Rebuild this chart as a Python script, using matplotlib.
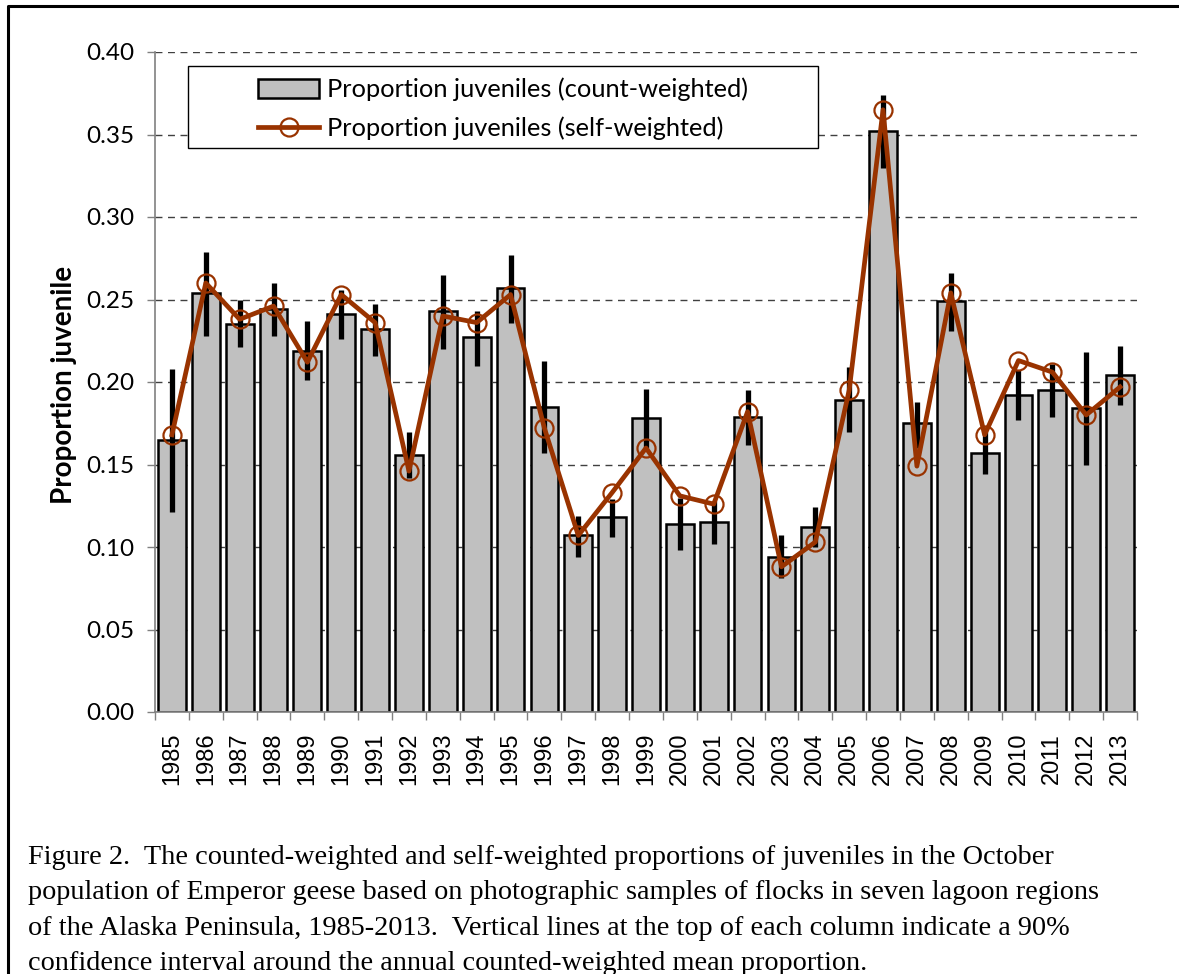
import numpy as np
import matplotlib
matplotlib.use("Agg")
import matplotlib.pyplot as plt
from matplotlib.patches import Rectangle
from matplotlib.lines import Line2D

years = list(range(1985, 2014))

# count-weighted proportion (bars)
count_w = [0.165, 0.254, 0.235, 0.244, 0.219, 0.241, 0.232, 0.156, 0.243, 0.227,
           0.257, 0.185, 0.107, 0.118, 0.178, 0.114, 0.115, 0.179, 0.094, 0.112,
           0.189, 0.352, 0.175, 0.249, 0.157, 0.192, 0.195, 0.184, 0.204]

# self-weighted proportion (line)
self_w = [0.168, 0.260, 0.238, 0.246, 0.212, 0.253, 0.236, 0.146, 0.240, 0.236,
          0.253, 0.172, 0.107, 0.133, 0.160, 0.131, 0.126, 0.182, 0.088, 0.103,
          0.195, 0.365, 0.149, 0.254, 0.168, 0.213, 0.206, 0.180, 0.197]

# 90% confidence interval of the count-weighted mean
ci_low = [0.121, 0.228, 0.221, 0.228, 0.201, 0.226, 0.216, 0.142, 0.220, 0.210,
          0.236, 0.157, 0.094, 0.106, 0.160, 0.098, 0.102, 0.162, 0.081, 0.100,
          0.170, 0.330, 0.160, 0.231, 0.144, 0.177, 0.179, 0.150, 0.186]
ci_high = [0.208, 0.279, 0.250, 0.260, 0.237, 0.256, 0.247, 0.170, 0.265, 0.243,
           0.277, 0.213, 0.119, 0.129, 0.196, 0.130, 0.128, 0.195, 0.107, 0.124,
           0.209, 0.374, 0.188, 0.266, 0.170, 0.207, 0.211, 0.218, 0.222]

yticks = np.arange(0, 0.401, 0.05)

caption = ("Figure 2.  The counted-weighted and self-weighted proportions of juveniles in the October\n"
           "population of Emperor geese based on photographic samples of flocks in seven lagoon regions\n"
           "of the Alaska Peninsula, 1985-2013.  Vertical lines at the top of each column indicate a 90%\n"
           "confidence interval around the annual counted-weighted mean proportion.")

sans = ["Lato", "DejaVu Sans"]
line_col = "#993300"

fig = plt.figure(figsize=(11.79, 9.74), dpi=100)
ax = fig.add_axes([155/1179, 1-712/974, 982/1179, 660/974])

x = np.arange(len(years))
bars = ax.bar(x, count_w, width=0.82, color="#c0c0c0", edgecolor="black", linewidth=1.8,
              zorder=2)
ax.vlines(x, ci_low, ci_high, color="black", linewidth=3.8, zorder=3)
line, = ax.plot(x, self_w, color=line_col, lw=3.4, marker="o", markersize=13,
                markerfacecolor="none", markeredgewidth=1.6, markeredgecolor=line_col,
                zorder=4)

ax.set_xlim(-0.5, len(years) - 0.5)
ax.set_ylim(0, 0.4)
ax.set_yticks(yticks)
ax.set_yticklabels([f"{v:.2f}" for v in yticks], fontsize=17.5, family=sans)
ax.yaxis.grid(True, linestyle=(0, (5, 4)), color="#404040", lw=1)
ax.set_axisbelow(True)

ax.set_xticks(x)
ax.set_xticklabels([str(y) for y in years], rotation=90, fontsize=17,
                   family="Liberation Sans")
ax.set_xticks(np.arange(-0.5, len(years)), minor=True)
ax.tick_params(axis="x", which="major", length=0, pad=15)
ax.tick_params(axis="x", which="minor", length=6, color="#808080", width=1)
ax.tick_params(axis="y", length=6, color="#808080", width=1, pad=9)

for s in ["top", "right"]:
    ax.spines[s].set_visible(False)
for s in ["left", "bottom"]:
    ax.spines[s].set_color("#808080")
    ax.spines[s].set_linewidth(1.2)

ax.set_ylabel("Proportion juvenile", fontsize=20, fontweight="bold", family=sans)
ax.yaxis.set_label_coords(-0.079, 0.4955)

# legend box drawn separately so the entries sit centred in it
box = Rectangle((33/982, 564/660), 630/982, 82/660, transform=ax.transAxes,
                facecolor="white", edgecolor="black", lw=1, zorder=5)
ax.add_patch(box)
leg = ax.legend([bars, line],
                ["Proportion juveniles (count-weighted)", "Proportion juveniles (self-weighted)"],
                loc="center", bbox_to_anchor=(348/982, 603/660), frameon=False,
                prop={"family": sans, "size": 18.3}, handlelength=2.4,
                handleheight=0.75, handletextpad=0.3, labelspacing=0.62)
leg.set_zorder(6)

fig.text(28/1179, 1-845/974, caption, ha="left", va="top", fontsize=20.3,
         family="Liberation Serif", linespacing=1.55)

# frame edges visible at the left and top of the image
fig.add_artist(Line2D([8/1179, 8/1179, 1], [0, 1-6/974, 1-6/974],
                      transform=fig.transFigure, color="black", lw=2.2))

fig.savefig("out.png", dpi=100)
